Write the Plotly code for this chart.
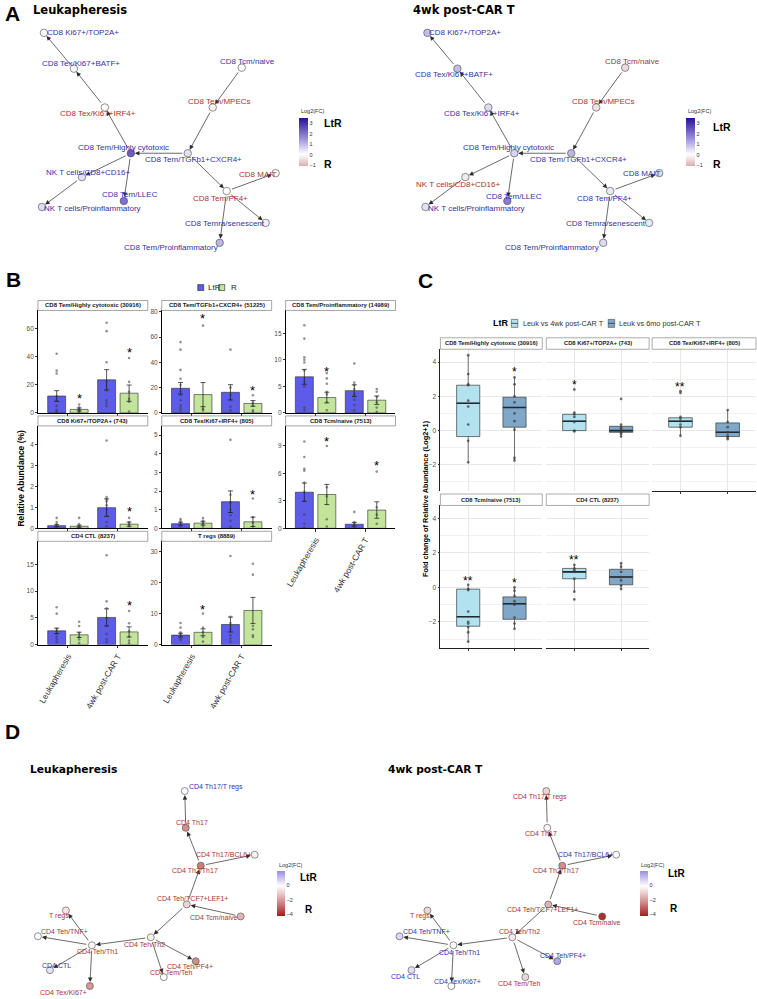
import plotly.graph_objects as go

W, H = 757, 999
BLUE_TXT = "#3434a2"
RED_TXT = "#a83434"
FONT = "Liberation Sans"

# ---------------- Panel A data (CD8 trajectory) ----------------
cd8_nodes = ["CD8 Ki67+/TOP2A+", "CD8 Tex/Ki67+BATF+", "CD8 Tex/Ki67+IRF4+", "CD8 Tem/Highly cytotoxic",
             "CD8 Tem/TGFb1+CXCR4+", "CD8 Tcm/naive", "CD8 Tem/MPECs", "NK T cells/CD8+CD16+",
             "NK T cells/Proinflammatory", "CD8 Tem/LLEC", "CD8 MAIT", "CD8 Tem/PF4+",
             "CD8 Temra/senescent", "CD8 Tem/Proinflammatory"]
cd8_layout_x = [43, 73, 104, 130, 187, 241, 212, 81, 41, 123, 275, 226, 265, 219]
cd8_layout_y = [31, 67, 106, 152, 152, 66, 106, 176, 206, 200, 172, 190, 222, 242]
cd8_edges = [(5, 6), (6, 4), (4, 3), (3, 2), (2, 1), (1, 0), (3, 7), (7, 8), (3, 9),
             (4, 11), (11, 10), (11, 12), (11, 13)]
cd8_fc_leuk = [0.1, 0.1, -0.05, 2.3, 0.4, 0.05, -0.2, 0.4, 0.5, 2.0, -0.05, -0.05, 0.2, 1.0]
cd8_fc_4wk = [0.9, 0.9, 0.5, 0.6, 1.0, -0.5, -0.4, -0.3, 0.4, 1.8, 0.5, 0.3, 0.3, 0.5]

# ---------------- Panel D data (CD4 trajectory) ----------------
cd4_nodes = ["CD4 Th17/T regs", "CD4 Th17", "CD4 Th17/BCL6+", "CD4 Th2/Th17", "CD4 Teh/TCF7+LEF1+",
             "CD4 Tcm/naive", "CD4 Teh/Th2", "T regs", "CD4 Teh/TNF+", "CD4 Teh/Th1", "CD4 CTL",
             "CD4 Tex/Ki67+", "CD4 Teh/PF4+", "CD4 Tem/Teh"]
cd4_layout_x = [184, 185, 254, 200, 186, 240, 150, 65, 37, 91, 49, 89, 195, 163]
cd4_layout_y = [93, 130, 157, 168, 207, 219, 240, 213, 239, 248, 273, 289, 264, 280]
cd4_edges = [(1, 0), (3, 1), (3, 2), (4, 3), (5, 4), (4, 6), (6, 9), (6, 12), (6, 13),
             (9, 7), (9, 8), (9, 10), (9, 11)]
cd4_fc_leuk = [0.05, -2.2, -0.3, -2.5, -0.8, -1.4, -0.3, -0.5, -0.05, -0.2, 0.5, -2.0, -2.2, -0.05]
cd4_fc_4wk = [-0.8, -0.2, 0.05, -2.2, -1.5, -3.8, -0.4, -0.8, 0.7, 0.02, 0.6, 0.05, 1.6, -0.8]

# ---------------- Panel B data ----------------
b_facets = ["CD8 Tem/Highly cytotoxic (30916)", "CD8 Tem/TGFb1+CXCR4+ (51225)",
            "CD8 Tem/Proinflammatory (14989)", "CD8 Ki67+/TOP2A+ (743)",
            "CD8 Tex/Ki67+IRF4+ (805)", "CD8 Tcm/naive (7513)", "CD4 CTL (8237)", "T regs (8889)"]
b_groups = ["Leukapheresis", "4wk post-CAR T"]
b_mean_ltr = [[12, 23.5], [19.5, 16.3], [6.8, 4.2], [0.13, 0.99], [0.25, 1.43], [3.95, 0.45], [2.6, 5.1], [3.1, 6.5]]
b_se_ltr = [[3.8, 7.2], [4.6, 6.0], [1.4, 1.1], [0.05, 0.42], [0.08, 0.58], [1.0, 0.2], [0.5, 1.6], [0.6, 2.4]]
b_mean_r = [[2.5, 14], [14.5, 7.5], [2.9, 2.4], [0.1, 0.2], [0.28, 0.35], [3.7, 2.0], [1.85, 2.4], [4.0, 11.0]]
b_se_r = [[1.0, 5.8], [9.5, 2.3], [1.0, 0.8], [0.05, 0.1], [0.1, 0.25], [1.1, 0.9], [0.5, 0.95], [1.1, 4.2]]
b_star_r = [[13, 45], [77.6, 20.6], [8.4, None], [None, 0.95], [None, 2.0], [9.9, 7.2], [None, 7.9], [12.5, None]]
b_pts_ltr_leuk = [[42, 30, 28, 12, 9, 5, 2, 1, 0.5], [56, 50, 34, 27, 22, 17, 14, 10, 6, 4, 2],
                  [16.5, 14, 10.5, 10, 9.5, 8, 6, 5, 1, 0.5], [0.5, 0.3, 0.2, 0.1, 0.05],
                  [0.5, 0.4, 0.3, 0.2, 0.1], [9.5, 7.8, 6.5, 6.3, 5, 4, 3, 1.5, 0.5, 0.1],
                  [7, 5.8, 3, 2.5, 2, 1.5, 1, 0.5], [7, 5.5, 4, 3.5, 3, 2, 1.5]]
b_pts_r_leuk = [[6, 4, 3, 2, 1.5, 1, 0.5], [69, 4, 3, 2], [7.5, 6.5, 5.5, 4, 3.5, 2, 0.5],
                [0.5, 0.2, 0.1, 0.02], [0.55, 0.4, 0.3, 0.2, 0.1], [9.0, 4.5, 3.5, 1, 0.2],
                [4.3, 3.5, 2.2, 1.5, 1, 0.3], [10, 5.5, 4, 2.5, 1]]
b_pts_ltr_4wk = [[64, 58, 36, 22, 16, 9, 7, 5], [50, 20, 14, 10, 5, 2], [9.3, 5.7, 5.2, 4.5, 3.5, 2.5, 1.5, 0.5],
                 [4.2, 1.5, 1.4, 1.3, 1.1, 0.9, 0.6, 0.3, 0.1], [4.75, 1.8, 1.4, 1.0, 0.7, 0.4, 0.1],
                 [1.8, 0.7, 0.5, 0.3, 0.1], [16.7, 8.1, 6.8, 5, 3.5, 2, 1, 0.5], [28.5, 9, 7, 6, 5, 3, 2, 1]]
b_pts_r_4wk = [[39, 22, 15, 10, 8, 1], [14, 8, 6, 2, 1], [4.5, 4, 3, 2, 1, 0.2], [0.5, 0.3, 0.2, 0.1],
               [1.6, 0.6, 0.3, 0.1], [6.2, 2.3, 1.5, 0.5], [6.3, 4.0, 2.5, 1.5, 0.8, 0.3],
               [26, 22.5, 6, 5, 3, 2.5]]

# ---------------- Panel C data ----------------
c_facets = ["CD8 Tem/Highly cytotoxic (30916)", "CD8 Ki67+/TOP2A+ (743)", "CD8 Tex/Ki67+IRF4+ (805)",
            "CD8 Tcm/naive (7513)", "CD4 CTL (8237)"]
c_series = ["Leuk vs 4wk post-CAR T", "Leuk vs 6mo post-CAR T"]
c_q1_4wk = [-0.35, 0.0, 0.2, -2.25, 0.5]
c_med_4wk = [1.6, 0.55, 0.55, -1.7, 0.9]
c_q3_4wk = [2.65, 0.95, 0.75, -0.1, 1.1]
c_lo_4wk = [-1.85, -0.05, -0.3, -3.15, -0.25]
c_hi_4wk = [4.4, 1.05, 0.8, 0.15, 1.3]
c_q1_6mo = [0.2, -0.1, -0.35, -1.85, 0.15]
c_med_6mo = [1.35, 0.0, -0.1, -0.95, 0.6]
c_q3_6mo = [1.95, 0.25, 0.45, -0.55, 1.05]
c_lo_6mo = [-1.75, -0.35, -0.5, -2.4, -0.1]
c_hi_6mo = [3.1, 0.35, 1.2, 0.0, 1.4]
c_pts_4wk = [[4.4, 3.3, 2.7, 2.65, 1.75, 1.4, 0.35, -0.6, -1.85], [2.4, 1.05, 0.95, 0.8, 0.5, 0.0, -0.05],
             [2.3, 2.2, 0.8, 0.7, 0.55, 0.35, 0.2, -0.3], [0.15, -0.1, -0.15, -1.4, -2.0, -2.1, -2.3, -2.6, -3.15],
             [1.3, 1.1, 1.0, 0.9, 0.5, -0.25, -0.7]]
c_pts_6mo = [[3.1, 2.7, 2.0, 1.65, 1.0, 0.55, 0.05, -1.6, -1.75], [1.85, 0.35, 0.2, 0.1, 0.0, -0.1, -0.2, -0.35],
             [1.2, 0.5, 0.2, -0.1, -0.3, -0.4, -0.5], [0.0, -0.2, -0.5, -0.8, -0.95, -1.0, -1.75, -2.1, -2.4],
             [1.4, 1.2, 0.9, 0.6, 0.4, 0.1, -0.1]]
c_sig_4wk = ["", "*", "**", "**", "**"]
c_sig_4wk_y = [None, 2.85, 2.75, 0.55, 1.8]
c_sig_6mo = ["*", "", "", "*", ""]
c_sig_6mo_y = [3.6, None, None, 0.45, None]

# ---------------- helpers ----------------
fig = go.Figure()
layout_axes = {}
annotations = []
shapes = []
counter = [0]


def new_axes(xpx, ypx):
    counter[0] += 1
    n = counter[0]
    xn = "xaxis" if n == 1 else f"xaxis{n}"
    yn = "yaxis" if n == 1 else f"yaxis{n}"
    xr = "x" if n == 1 else f"x{n}"
    yr = "y" if n == 1 else f"y{n}"
    layout_axes[xn] = dict(domain=[xpx[0] / W, xpx[1] / W], anchor=yr)
    layout_axes[yn] = dict(domain=[1 - ypx[1] / H, 1 - ypx[0] / H], anchor=xr)
    return xr, yr, xn, yn


def ptext(x, y, text, size, color="black", bold=False, xanchor="center", family=FONT, angle=0):
    annotations.append(dict(x=x / W, y=1 - y / H, xref="paper", yref="paper", text=text, showarrow=False,
                            xanchor=xanchor, yanchor="middle", textangle=angle,
                            font=dict(size=size, color=color, family=family,
                                      weight="bold" if bold else "normal")))


def prect(x0, y0, x1, y1, fill, line="#808080", lw=0.7):
    shapes.append(dict(type="rect", xref="paper", yref="paper", x0=x0 / W, x1=x1 / W,
                       y0=1 - y1 / H, y1=1 - y0 / H, fillcolor=fill, line=dict(color=line, width=lw)))


def draw_network(xpx, ypx, lay_x, lay_y, fc, names, edges, dx, dy, cscale, cmin, cmax,
                 cb_x, cb_y, cb_len, cb_th, cb_ticks, fsize, nsize):
    xr, yr, xn, yn = new_axes(xpx, ypx)
    layout_axes[xn].update(range=[0, xpx[1] - xpx[0]], visible=False, fixedrange=True)
    layout_axes[yn].update(range=[ypx[1] - ypx[0], 0], visible=False, fixedrange=True)
    for s, t in edges:
        annotations.append(dict(x=lay_x[t], y=lay_y[t], ax=lay_x[s], ay=lay_y[s], xref=xr, yref=yr,
                                axref=xr, ayref=yr, showarrow=True, arrowhead=2, arrowsize=1.3,
                                arrowwidth=0.7, arrowcolor="#2b2b2b", standoff=4, startstandoff=4, text=""))
    fig.add_trace(go.Scatter(
        x=lay_x, y=lay_y, xaxis=xr, yaxis=yr, mode="markers", text=names, hoverinfo="text",
        showlegend=False, cliponaxis=False,
        marker=dict(size=nsize, color=fc, colorscale=cscale, cmin=cmin, cmax=cmax,
                    line=dict(color="#4a4a4a", width=0.6),
                    colorbar=dict(x=cb_x / W, xanchor="left", xpad=0, y=1 - cb_y / H, yanchor="middle",
                                  ypad=0, len=cb_len, lenmode="pixels", thickness=cb_th,
                                  thicknessmode="pixels", outlinewidth=0, tickvals=cb_ticks, ticks="",
                                  tickfont=dict(size=5.5, color="#333", family=FONT)))))
    for i, name in enumerate(names):
        annotations.append(dict(x=lay_x[i], y=lay_y[i], xref=xr, yref=yr, text=name, showarrow=False,
                                xshift=dx[i], yshift=-dy[i],
                                font=dict(size=fsize, color=BLUE_TXT if fc[i] > 0 else RED_TXT, family=FONT)))


# ---------------- Panel A ----------------
cs_A = [[0, "#dcaeae"], [0.2418, "#ffffff"], [0.571, "#9b90dc"], [1, "#28109a"]]
cd8_dx_leuk = [39, 7, -7, -7, 6, 6, 7, 7, 51, 6, -18, -6, -41, -49]
cd8_dy_leuk = [0, -5, 6, -6, 6, -6, -6, -5, 2, -7, 1, 7, 1, 5]
cd8_dx_4wk = [38, -3, -6, -6, 7, 7, 7, -7, 51, 7, -18, -6, -43, -51]
cd8_dy_4wk = [0, 6, 6, -6, 6, -6, -6, 7, 2, -5, 0, 7, 1, 5]
draw_network((0, 370), (0, 250), cd8_layout_x, cd8_layout_y, cd8_fc_leuk, cd8_nodes, cd8_edges,
             cd8_dx_leuk, cd8_dy_leuk, cs_A, -1.1, 3.45, 298, 141, 48, 9, [-1, 0, 1, 2, 3], 8, 7.5)
draw_network((384, 754), (0, 250), cd8_layout_x, cd8_layout_y, cd8_fc_4wk, cd8_nodes, cd8_edges,
             cd8_dx_4wk, cd8_dy_4wk, cs_A, -1.1, 3.45, 686, 141, 48, 9, [-1, 0, 1, 2, 3], 8, 7.5)
ptext(2, 12, "A", 21, bold=True, xanchor="left", family="Liberation Sans")
ptext(30, 8, "Leukapheresis", 11.5, bold=True, xanchor="left", family="DejaVu Sans")
ptext(411, 8, "4wk post-CAR T", 11.5, bold=True, xanchor="left", family="DejaVu Sans")
for bx, ly, lx in [(298, 122, 321), (686, 126, 711)]:
    ptext(bx, 110, "Log2(FC)", 5.5, color="#333", xanchor="left")
    ptext(lx, ly, "LtR", 10.5, bold=True, xanchor="left")
    ptext(lx, 163, "R", 10.5, bold=True, xanchor="left")

# ---------------- Panel B ----------------
LTR_COL = "#5c5ce8"
R_COL = "#c3e59b"
b_cols_px = [(37, 147), (161, 271), (285, 395)]
b_rows_px = [(310, 413), (426, 529), (542, 646)]
b_cells = [(0, 0), (0, 1), (0, 2), (1, 0), (1, 1), (1, 2), (2, 0), (2, 1)]
b_showx = [False, False, False, False, False, True, True, True]
b_ytop = [72.7, 81, 19.3, 4.9, 5.5, 11.2, 19.3, 33.2]
b_dtick = [20, 20, 5, 1, 1, 3, 5, 10]
DODGE = 0.225
BARW = 0.36

for k, name in enumerate(b_facets):
    r, c = b_cells[k]
    xr, yr, xn, yn = new_axes(b_cols_px[c], b_rows_px[r])
    layout_axes[xn].update(range=[-0.6, 1.6], tickvals=[0, 1], ticktext=b_groups, showticklabels=b_showx[k],
                           tickangle=-60, tickfont=dict(size=8.5, color="#333"), showline=True,
                           linecolor="black", linewidth=0.6, ticks="outside", ticklen=2.5, tickwidth=0.6,
                           tickcolor="#333", showgrid=False, zeroline=False, fixedrange=True)
    layout_axes[yn].update(range=[0, b_ytop[k]], tick0=0, dtick=b_dtick[k], showline=True, linecolor="black",
                           linewidth=0.6, ticks="outside", ticklen=2, tickwidth=0.6, tickcolor="#333",
                           tickfont=dict(size=6.5, color="#4d4d4d"), showgrid=False, zeroline=False,
                           fixedrange=True)
    for means, ses, p_leuk, p_4wk, col, off in [
            (b_mean_ltr, b_se_ltr, b_pts_ltr_leuk, b_pts_ltr_4wk, LTR_COL, -DODGE),
            (b_mean_r, b_se_r, b_pts_r_leuk, b_pts_r_4wk, R_COL, DODGE)]:
        xs = [i + off for i in range(2)]
        fig.add_trace(go.Bar(x=xs, y=means[k], width=BARW, xaxis=xr, yaxis=yr, showlegend=False,
                             marker=dict(color=col, line=dict(color="#2a2a2a", width=0.6)),
                             error_y=dict(type="data", array=ses[k], color="#111", thickness=0.7, width=2.5)))
        for i, pts in enumerate([p_leuk[k], p_4wk[k]]):
            fig.add_trace(go.Scatter(x=[xs[i]] * len(pts), y=pts, xaxis=xr, yaxis=yr, mode="markers",
                                     showlegend=False, cliponaxis=False,
                                     marker=dict(size=2.6, color="#3a3a3a", opacity=0.55)))
    for i, sy in enumerate(b_star_r[k]):
        if sy is not None:
            annotations.append(dict(x=i + DODGE, y=sy, xref=xr, yref=yr, text="*", showarrow=False,
                                    yshift=-3.5, font=dict(size=13, color="black", family=FONT)))
    x0, x1 = b_cols_px[c]
    y0 = b_rows_px[r][0]
    prect(x0, y0 - 10, x1, y0, "white")
    ptext((x0 + x1) / 2, y0 - 5, name, 6, color="#1a1a1a", bold=True)

ptext(3, 279, "B", 21, bold=True, xanchor="left")
ptext(20, 478, "Relative Abundance (%)", 8.5, bold=True, angle=-90)
prect(197, 284, 203, 290, LTR_COL, line="#222", lw=0.6)
ptext(205, 287, "LtR", 8, color="#222", xanchor="left")
prect(218, 284, 224, 290, R_COL, line="#222", lw=0.6)
ptext(228, 287, "R", 8, color="#222", xanchor="left")

# ---------------- Panel C ----------------
C_LIGHT = "#b2e2f0"
C_DARK = "#7fa7c8"
c_cols_px = [(440, 542), (546, 649), (652, 756)]
c_rows_px = [(349, 491), (506, 649)]
c_cells = [(0, 0), (0, 1), (0, 2), (1, 0), (1, 1)]
c_bottom = [False, False, True, True, True]
BOXW = 0.5

for k, name in enumerate(c_facets):
    r, c = c_cells[k]
    xr, yr, xn, yn = new_axes(c_cols_px[c], c_rows_px[r])
    layout_axes[xn].update(range=[0.4, 2.6], tickvals=[1, 2], showticklabels=False, showgrid=True,
                           gridcolor="#e8e8e8", gridwidth=0.6, zeroline=False, fixedrange=True,
                           showline=c_bottom[k], linecolor="#222", linewidth=0.8,
                           ticks="outside" if c_bottom[k] else "", ticklen=2.5, tickcolor="#333",
                           tickwidth=0.6)
    layout_axes[yn].update(range=[-3.5, 4.75], tickvals=[-2, 0, 2, 4], showgrid=True, gridcolor="#e8e8e8",
                           gridwidth=0.6, zeroline=False, fixedrange=True,
                           minor=dict(tickvals=[-3, -1, 1, 3], showgrid=True, gridcolor="#f1f1f1",
                                      gridwidth=0.5),
                           showticklabels=(c == 0), showline=(c == 0), linecolor="#222", linewidth=0.8,
                           ticks="outside" if c == 0 else "", ticklen=2, tickcolor="#333", tickwidth=0.6,
                           tickfont=dict(size=6.5, color="#4d4d4d"))
    for xi, q1, md, q3, lo, hi, pts, colr in [
            (1, c_q1_4wk, c_med_4wk, c_q3_4wk, c_lo_4wk, c_hi_4wk, c_pts_4wk, C_LIGHT),
            (2, c_q1_6mo, c_med_6mo, c_q3_6mo, c_lo_6mo, c_hi_6mo, c_pts_6mo, C_DARK)]:
        fig.add_trace(go.Box(x=[xi], q1=[q1[k]], median=[md[k]], q3=[q3[k]], lowerfence=[lo[k]],
                             upperfence=[hi[k]], width=BOXW, fillcolor=colr, whiskerwidth=0,
                             line=dict(color="#3a3a3a", width=0.7), boxpoints=False, xaxis=xr, yaxis=yr,
                             showlegend=False, hoverinfo="skip"))
        fig.add_trace(go.Scatter(x=[xi - BOXW / 2, xi + BOXW / 2], y=[md[k], md[k]], mode="lines",
                                 line=dict(color="#1f2a30", width=1.6), xaxis=xr, yaxis=yr,
                                 showlegend=False, hoverinfo="skip"))
        fig.add_trace(go.Scatter(x=[xi] * len(pts[k]), y=pts[k], mode="markers", xaxis=xr, yaxis=yr,
                                 showlegend=False, marker=dict(size=2.8, color="#3a3a3a", opacity=0.7)))
    for xi, sig, sy in [(1, c_sig_4wk[k], c_sig_4wk_y[k]), (2, c_sig_6mo[k], c_sig_6mo_y[k])]:
        if sig:
            annotations.append(dict(x=xi, y=sy, xref=xr, yref=yr, text=sig, showarrow=False, yshift=-3.5,
                                    font=dict(size=12, color="black", family=FONT)))
    x0, x1 = c_cols_px[c]
    y0 = c_rows_px[r][0]
    prect(x0, y0 - 11.5, x1, y0, "white", line="#888", lw=0.7)
    ptext((x0 + x1) / 2, y0 - 5.8, name, 5.8, color="#222", bold=True)

ptext(416, 280, "C", 21, bold=True, xanchor="left")
ptext(425, 499, "Fold change of Relative Abundance (Log2+1)", 7.3, bold=True, angle=-90)
ptext(491, 323, "LtR", 9, bold=True, xanchor="left")
for ix, tx, colr, lab in [(511, 521, C_LIGHT, c_series[0]), (608, 617, C_DARK, c_series[1])]:
    prect(ix, 319, ix + 6.5, 327, colr, line="#444", lw=0.6)
    shapes.append(dict(type="line", xref="paper", yref="paper", x0=ix / W, x1=(ix + 6.5) / W,
                       y0=1 - 323 / H, y1=1 - 323 / H, line=dict(color="#333", width=0.8)))
    ptext(tx, 323, lab, 7.3, color="#333", xanchor="left")

# ---------------- Panel D ----------------
cs_D = [[0, "#a51c1c"], [0.3317, "#d59494"], [0.6667, "#ffffff"], [1, "#9a8ce0"]]
cd4_dx_leuk = [31, 6, -31, -6, 6, -27, -6, -7, 27, 6, 7, -26, -6, 7]
cd4_dy_leuk = [-4, -5, 0, 5, -6, 1, 7, 6, -5, 6, -5, 6, 5, -5]
cd4_dx_4wk = [-6, -6, -31, -6, -6, -6, 7, -7, 27, 6, -6, 6, 6, -6]
cd4_dy_4wk = [6, 6, 0, 5, 5, 6, -6, 6, -5, 7, 6, -5, -6, 6]
draw_network((0, 370), (700, 999), cd4_layout_x, cd4_layout_y, cd4_fc_leuk, cd4_nodes, cd4_edges,
             cd4_dx_leuk, cd4_dy_leuk, cs_D, -4.14, 2.07, 276, 895.5, 45, 8, [-4, -2, 0], 7, 7)
draw_network((362, 732), (700, 999), cd4_layout_x, cd4_layout_y, cd4_fc_4wk, cd4_nodes, cd4_edges,
             cd4_dx_4wk, cd4_dy_4wk, cs_D, -4.14, 2.07, 640, 895.5, 45, 8, [-4, -2, 0], 7, 7)
ptext(2, 733, "D", 21, bold=True, xanchor="left")
ptext(27, 771, "Leukapheresis", 10.7, bold=True, xanchor="left", family="DejaVu Sans")
ptext(386, 771, "4wk post-CAR T", 10.7, bold=True, xanchor="left", family="DejaVu Sans")
for bx, lx, ly, rx, ry in [(276, 297, 880, 302, 912), (639, 666, 876, 668, 911)]:
    ptext(bx, 867, "Log2(FC)", 5.5, color="#333", xanchor="left")
    ptext(lx, ly, "LtR", 10, bold=True, xanchor="left")
    ptext(rx, ry, "R", 10, bold=True, xanchor="left")

fig.update_layout(width=W, height=H, margin=dict(l=0, r=0, t=0, b=0), paper_bgcolor="white",
                  plot_bgcolor="white", showlegend=False, barmode="overlay",
                  font=dict(family=FONT, color="#222"), annotations=annotations, shapes=shapes,
                  **layout_axes)
fig.write_html("out.html", config={"displayModeBar": False},
               post_script="document.body.style.margin='0';document.body.style.overflow='hidden';")
